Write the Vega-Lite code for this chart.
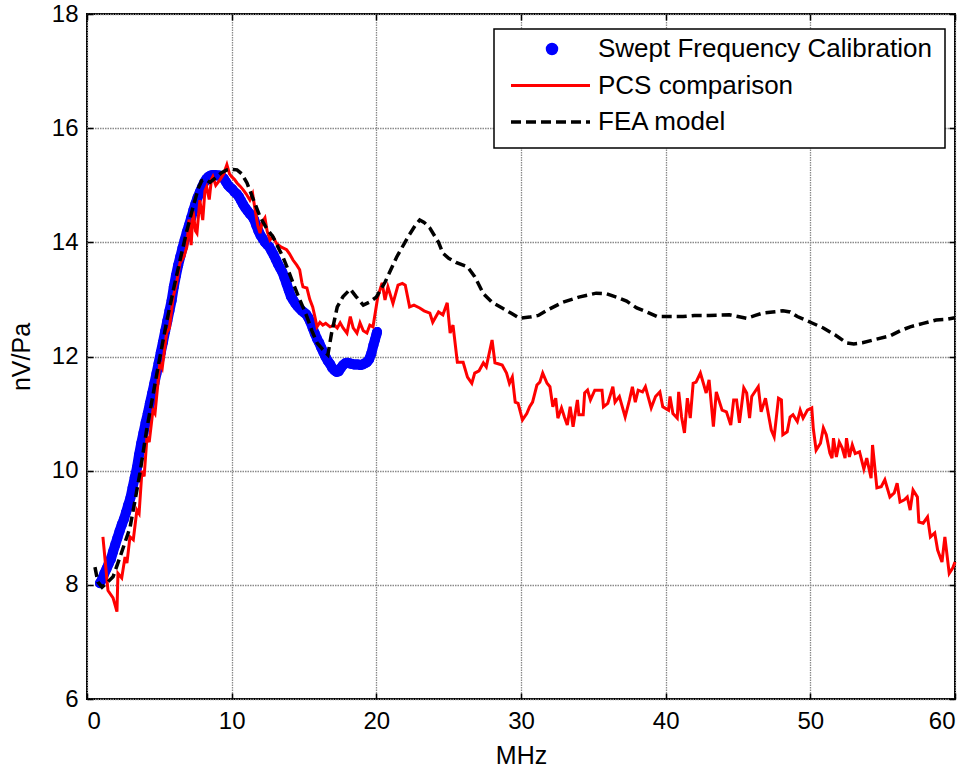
{
"$schema": "https://vega.github.io/schema/vega-lite/v6.json",
"width": 868, "height": 685,
"autosize": {"type": "none"},
"padding": {"left": 87, "top": 14, "right": 17, "bottom": 73},
"background": "white",
"config": {
  "view": {"stroke": "black", "strokeWidth": 2},
  "font": "Liberation Sans",
  "axis": {"domain": false, "tickColor": "black", "tickSize": -6, "tickWidth": 1.5, "labelFontSize": 24, "labelColor": "black", "titleFontSize": 25, "titleFontWeight": "normal", "titleColor": "black", "gridColor": "#8a8a8a", "gridDash": [1.5, 1], "gridWidth": 1.3},
  "legend": {"title": null, "orient": "none", "legendX": 407, "legendY": 15, "padding": 13, "symbolSize": 6241, "symbolType": "stroke", "clipHeight": 14, "rowPadding": 10.5, "labelFontSize": 26, "labelColor": "black", "labelOffset": 58, "labelLimit": 500, "strokeColor": "black", "fillColor": "white", "symbolOffset": 7}
},
"datasets": {
"swept": [
{"f":0.9,"v":8.03},{"f":1.05,"v":8.1},{"f":1.2,"v":8.2},{"f":1.35,"v":8.28},{"f":1.5,"v":8.37},{"f":1.65,"v":8.45},{"f":1.8,"v":8.58},{"f":1.95,"v":8.7},{"f":2.1,"v":8.82},{"f":2.25,"v":8.94},{"f":2.4,"v":9.05},{"f":2.55,"v":9.15},{"f":2.7,"v":9.27},{"f":2.85,"v":9.4},{"f":3.0,"v":9.52},{"f":3.15,"v":9.7},{"f":3.3,"v":9.88},{"f":3.45,"v":10.05},{"f":3.6,"v":10.28},{"f":3.75,"v":10.48},{"f":3.9,"v":10.66},{"f":4.05,"v":10.84},{"f":4.2,"v":11.0},{"f":4.35,"v":11.18},{"f":4.5,"v":11.35},{"f":4.65,"v":11.52},{"f":4.8,"v":11.7},{"f":4.95,"v":11.88},{"f":5.1,"v":12.07},{"f":5.25,"v":12.25},{"f":5.4,"v":12.44},{"f":5.55,"v":12.62},{"f":5.7,"v":12.8},{"f":5.85,"v":12.98},{"f":6.0,"v":13.22},{"f":6.15,"v":13.42},{"f":6.3,"v":13.6},{"f":6.45,"v":13.75},{"f":6.6,"v":13.9},{"f":6.75,"v":14.04},{"f":6.9,"v":14.18},{"f":7.05,"v":14.3},{"f":7.2,"v":14.43},{"f":7.35,"v":14.56},{"f":7.5,"v":14.68},{"f":7.65,"v":14.79},{"f":7.8,"v":14.88},{"f":7.95,"v":14.97},{"f":8.1,"v":15.05},{"f":8.25,"v":15.11},{"f":8.4,"v":15.15},{"f":8.55,"v":15.17},{"f":8.7,"v":15.18},{"f":8.85,"v":15.18},{"f":9.0,"v":15.17},{"f":9.15,"v":15.17},{"f":9.3,"v":15.15},{"f":9.45,"v":15.12},{"f":9.6,"v":15.06},{"f":9.75,"v":15.0},{"f":9.9,"v":14.96},{"f":10.05,"v":14.93},{"f":10.2,"v":14.88},{"f":10.35,"v":14.85},{"f":10.5,"v":14.8},{"f":10.65,"v":14.73},{"f":10.8,"v":14.66},{"f":10.95,"v":14.6},{"f":11.1,"v":14.55},{"f":11.25,"v":14.5},{"f":11.4,"v":14.46},{"f":11.55,"v":14.4},{"f":11.7,"v":14.3},{"f":11.85,"v":14.2},{"f":12.0,"v":14.12},{"f":12.15,"v":14.06},{"f":12.3,"v":14.0},{"f":12.45,"v":13.96},{"f":12.6,"v":13.92},{"f":12.75,"v":13.85},{"f":12.9,"v":13.78},{"f":13.05,"v":13.7},{"f":13.2,"v":13.62},{"f":13.35,"v":13.55},{"f":13.5,"v":13.48},{"f":13.65,"v":13.38},{"f":13.8,"v":13.27},{"f":13.95,"v":13.16},{"f":14.1,"v":13.05},{"f":14.25,"v":12.99},{"f":14.4,"v":12.93},{"f":14.55,"v":12.88},{"f":14.7,"v":12.84},{"f":14.85,"v":12.8},{"f":15.0,"v":12.77},{"f":15.15,"v":12.74},{"f":15.3,"v":12.68},{"f":15.45,"v":12.6},{"f":15.6,"v":12.5},{"f":15.75,"v":12.4},{"f":15.9,"v":12.31},{"f":16.05,"v":12.24},{"f":16.2,"v":12.15},{"f":16.35,"v":12.07},{"f":16.5,"v":11.99},{"f":16.65,"v":11.92},{"f":16.8,"v":11.87},{"f":16.95,"v":11.8},{"f":17.1,"v":11.76},{"f":17.25,"v":11.73},{"f":17.4,"v":11.74},{"f":17.55,"v":11.8},{"f":17.7,"v":11.85},{"f":17.85,"v":11.88},{"f":18.0,"v":11.89},{"f":18.15,"v":11.88},{"f":18.3,"v":11.87},{"f":18.45,"v":11.86},{"f":18.6,"v":11.86},{"f":18.75,"v":11.86},{"f":18.9,"v":11.85},{"f":19.05,"v":11.86},{"f":19.2,"v":11.88},{"f":19.35,"v":11.9},{"f":19.5,"v":11.95},{"f":19.65,"v":12.05},{"f":19.8,"v":12.2},{"f":19.9,"v":12.29},{"f":20.0,"v":12.38},{"f":20.05,"v":12.43}
],
"pcs": [
{"f":1.1,"v":8.84},{"f":1.45,"v":7.9},{"f":1.8,"v":7.77},{"f":2.07,"v":7.53},{"f":2.14,"v":8.2},{"f":2.4,"v":8.12},{"f":2.63,"v":8.49},{"f":2.76,"v":8.38},{"f":2.97,"v":8.84},{"f":3.2,"v":8.79},{"f":3.45,"v":9.31},{"f":3.6,"v":9.25},{"f":3.8,"v":10.0},{"f":3.95,"v":9.9},{"f":4.15,"v":10.6},{"f":4.3,"v":10.5},{"f":4.56,"v":11.06},{"f":4.7,"v":11.0},{"f":5.04,"v":11.89},{"f":5.2,"v":11.8},{"f":5.5,"v":12.41},{"f":5.7,"v":12.5},{"f":5.96,"v":13.04},{"f":6.2,"v":13.3},{"f":6.43,"v":13.64},{"f":6.7,"v":13.75},{"f":6.9,"v":13.92},{"f":7.05,"v":14.4},{"f":7.2,"v":13.95},{"f":7.33,"v":14.55},{"f":7.5,"v":14.2},{"f":7.6,"v":14.16},{"f":7.8,"v":14.74},{"f":8.0,"v":14.39},{"f":8.15,"v":14.9},{"f":8.27,"v":14.97},{"f":8.45,"v":14.75},{"f":8.6,"v":15.1},{"f":8.7,"v":15.15},{"f":8.9,"v":15.0},{"f":9.2,"v":15.1},{"f":9.45,"v":15.2},{"f":9.67,"v":15.36},{"f":9.85,"v":15.2},{"f":10.0,"v":15.15},{"f":10.2,"v":15.1},{"f":10.37,"v":15.04},{"f":10.6,"v":14.98},{"f":10.8,"v":14.92},{"f":11.0,"v":14.85},{"f":11.26,"v":14.74},{"f":11.45,"v":14.85},{"f":11.6,"v":14.6},{"f":11.8,"v":14.3},{"f":11.96,"v":14.16},{"f":12.1,"v":14.35},{"f":12.3,"v":14.43},{"f":12.45,"v":14.2},{"f":12.65,"v":14.04},{"f":12.85,"v":14.1},{"f":13.1,"v":13.98},{"f":13.4,"v":13.92},{"f":13.8,"v":13.87},{"f":14.0,"v":13.8},{"f":14.24,"v":13.69},{"f":14.5,"v":13.6},{"f":14.7,"v":13.52},{"f":14.85,"v":13.3},{"f":14.93,"v":13.22},{"f":15.2,"v":13.2},{"f":15.4,"v":13.0},{"f":15.6,"v":12.87},{"f":15.75,"v":12.7},{"f":15.9,"v":12.52},{"f":16.1,"v":12.6},{"f":16.3,"v":12.55},{"f":16.5,"v":12.58},{"f":16.8,"v":12.52},{"f":17.1,"v":12.55},{"f":17.3,"v":12.5},{"f":17.5,"v":12.59},{"f":17.7,"v":12.5},{"f":17.97,"v":12.41},{"f":18.2,"v":12.7},{"f":18.4,"v":12.5},{"f":18.66,"v":12.41},{"f":18.87,"v":12.59},{"f":19.1,"v":12.45},{"f":19.35,"v":12.41},{"f":19.55,"v":12.55},{"f":19.77,"v":12.52},{"f":20.1,"v":13.04},{"f":20.4,"v":13.29},{"f":20.6,"v":12.99},{"f":20.8,"v":13.22},{"f":21.15,"v":12.93},{"f":21.5,"v":13.25},{"f":21.8,"v":13.28},{"f":22.0,"v":13.25},{"f":22.3,"v":12.87},{"f":22.6,"v":12.9},{"f":23.0,"v":12.85},{"f":23.3,"v":12.8},{"f":23.7,"v":12.76},{"f":23.9,"v":12.6},{"f":24.3,"v":12.78},{"f":24.6,"v":12.73},{"f":24.9,"v":12.94},{"f":25.1,"v":12.41},{"f":25.3,"v":12.55},{"f":25.6,"v":11.9},{"f":26.0,"v":11.9},{"f":26.3,"v":11.64},{"f":26.6,"v":11.53},{"f":26.8,"v":11.71},{"f":27.1,"v":11.75},{"f":27.4,"v":11.89},{"f":27.6,"v":11.82},{"f":28.0,"v":12.29},{"f":28.2,"v":11.89},{"f":28.7,"v":11.85},{"f":29.0,"v":11.71},{"f":29.2,"v":11.53},{"f":29.4,"v":11.64},{"f":29.6,"v":11.2},{"f":29.8,"v":11.18},{"f":30.1,"v":10.89},{"f":30.4,"v":11.0},{"f":30.6,"v":11.12},{"f":30.8,"v":11.2},{"f":31.1,"v":11.5},{"f":31.3,"v":11.55},{"f":31.5,"v":11.71},{"f":31.8,"v":11.53},{"f":32.0,"v":11.47},{"f":32.2,"v":11.12},{"f":32.4,"v":11.27},{"f":32.55,"v":10.92},{"f":32.8,"v":11.1},{"f":33.0,"v":10.94},{"f":33.2,"v":10.8},{"f":33.4,"v":11.12},{"f":33.6,"v":10.77},{"f":33.9,"v":11.24},{"f":34.0,"v":10.98},{"f":34.3,"v":10.98},{"f":34.4,"v":11.36},{"f":34.6,"v":11.41},{"f":34.8,"v":11.24},{"f":35.1,"v":11.41},{"f":35.6,"v":11.41},{"f":35.7,"v":11.12},{"f":36.0,"v":11.18},{"f":36.35,"v":11.47},{"f":36.5,"v":11.2},{"f":36.8,"v":11.3},{"f":37.2,"v":10.94},{"f":37.5,"v":11.24},{"f":37.7,"v":11.47},{"f":37.9,"v":11.2},{"f":38.1,"v":11.41},{"f":38.4,"v":11.38},{"f":38.6,"v":11.47},{"f":39.0,"v":11.1},{"f":39.3,"v":11.3},{"f":39.6,"v":11.38},{"f":39.8,"v":11.12},{"f":40.2,"v":11.06},{"f":40.3,"v":11.3},{"f":40.5,"v":11.0},{"f":40.8,"v":10.92},{"f":40.9,"v":11.38},{"f":41.1,"v":10.94},{"f":41.3,"v":10.66},{"f":41.5,"v":11.27},{"f":41.7,"v":10.92},{"f":41.9,"v":11.53},{"f":42.1,"v":11.55},{"f":42.4,"v":11.71},{"f":42.8,"v":11.36},{"f":43.0,"v":11.59},{"f":43.3,"v":10.77},{"f":43.5,"v":11.38},{"f":43.9,"v":11.06},{"f":44.2,"v":11.03},{"f":44.5,"v":10.8},{"f":44.7,"v":11.24},{"f":44.9,"v":11.24},{"f":45.1,"v":10.84},{"f":45.4,"v":11.45},{"f":45.6,"v":11.36},{"f":45.8,"v":10.92},{"f":45.95,"v":11.3},{"f":46.4,"v":11.47},{"f":46.6,"v":11.03},{"f":46.9,"v":11.27},{"f":47.3,"v":10.71},{"f":47.5,"v":10.59},{"f":47.8,"v":11.27},{"f":48.0,"v":11.24},{"f":48.1,"v":10.63},{"f":48.4,"v":10.68},{"f":48.6,"v":10.94},{"f":48.8,"v":10.98},{"f":49.1,"v":10.86},{"f":49.3,"v":11.06},{"f":49.5,"v":10.92},{"f":49.8,"v":11.06},{"f":50.1,"v":11.1},{"f":50.2,"v":10.75},{"f":50.4,"v":10.36},{"f":50.7,"v":10.48},{"f":50.9,"v":10.75},{"f":51.1,"v":10.63},{"f":51.35,"v":10.31},{"f":51.5,"v":10.22},{"f":51.6,"v":10.57},{"f":51.8,"v":10.24},{"f":52.0,"v":10.5},{"f":52.2,"v":10.4},{"f":52.4,"v":10.22},{"f":52.5,"v":10.57},{"f":52.7,"v":10.24},{"f":52.9,"v":10.45},{"f":53.1,"v":10.3},{"f":53.4,"v":10.33},{"f":53.7,"v":10.03},{"f":53.9,"v":10.22},{"f":54.2,"v":9.87},{"f":54.3,"v":10.45},{"f":54.6,"v":9.7},{"f":54.9,"v":9.72},{"f":55.15,"v":9.84},{"f":55.5,"v":9.54},{"f":55.8,"v":9.61},{"f":56.0,"v":9.78},{"f":56.2,"v":9.45},{"f":56.5,"v":9.49},{"f":56.7,"v":9.54},{"f":56.9,"v":9.31},{"f":57.1,"v":9.66},{"f":57.4,"v":9.54},{"f":57.5,"v":9.1},{"f":57.8,"v":9.08},{"f":58.1,"v":9.19},{"f":58.3,"v":8.84},{"f":58.6,"v":8.91},{"f":58.8,"v":8.61},{"f":59.1,"v":8.4},{"f":59.3,"v":8.84},{"f":59.6,"v":8.2},{"f":59.85,"v":8.3},{"f":60.0,"v":8.4}
],
"fea": [
{"f":0.55,"v":8.31},{"f":0.75,"v":8.05},{"f":1.04,"v":7.96},{"f":1.4,"v":8.04},{"f":1.8,"v":8.14},{"f":2.3,"v":8.5},{"f":2.97,"v":9.0},{"f":3.3,"v":9.45},{"f":3.66,"v":9.96},{"f":4.12,"v":10.71},{"f":4.6,"v":11.38},{"f":5.04,"v":11.99},{"f":5.5,"v":12.6},{"f":6.0,"v":13.2},{"f":6.43,"v":13.69},{"f":6.9,"v":14.2},{"f":7.33,"v":14.62},{"f":7.7,"v":14.95},{"f":7.93,"v":15.08},{"f":8.2,"v":15.1},{"f":8.5,"v":15.05},{"f":8.98,"v":15.15},{"f":9.3,"v":15.22},{"f":9.67,"v":15.27},{"f":10.0,"v":15.28},{"f":10.37,"v":15.27},{"f":10.7,"v":15.2},{"f":11.06,"v":15.04},{"f":11.5,"v":14.75},{"f":11.96,"v":14.45},{"f":12.4,"v":14.25},{"f":12.85,"v":14.1},{"f":13.2,"v":13.92},{"f":13.55,"v":13.74},{"f":13.9,"v":13.52},{"f":14.24,"v":13.29},{"f":14.7,"v":13.0},{"f":15.2,"v":12.7},{"f":15.55,"v":12.45},{"f":15.9,"v":12.24},{"f":16.3,"v":12.12},{"f":16.65,"v":12.03},{"f":16.9,"v":12.4},{"f":17.3,"v":12.87},{"f":17.7,"v":13.05},{"f":18.2,"v":13.18},{"f":18.6,"v":13.05},{"f":19.1,"v":12.9},{"f":19.5,"v":12.95},{"f":20.0,"v":13.04},{"f":20.6,"v":13.3},{"f":21.4,"v":13.74},{"f":22.2,"v":14.1},{"f":22.7,"v":14.3},{"f":23.0,"v":14.39},{"f":23.3,"v":14.35},{"f":23.7,"v":14.25},{"f":24.3,"v":14.0},{"f":24.6,"v":13.81},{"f":25.0,"v":13.72},{"f":25.5,"v":13.65},{"f":26.3,"v":13.57},{"f":26.8,"v":13.4},{"f":27.4,"v":13.1},{"f":28.0,"v":12.95},{"f":28.7,"v":12.85},{"f":29.3,"v":12.76},{"f":29.9,"v":12.67},{"f":30.6,"v":12.69},{"f":31.2,"v":12.72},{"f":31.8,"v":12.81},{"f":32.9,"v":12.95},{"f":34.0,"v":13.04},{"f":35.2,"v":13.11},{"f":35.9,"v":13.1},{"f":36.6,"v":13.04},{"f":37.3,"v":12.97},{"f":38.0,"v":12.85},{"f":38.7,"v":12.78},{"f":39.4,"v":12.7},{"f":40.3,"v":12.7},{"f":41.2,"v":12.7},{"f":42.0,"v":12.72},{"f":43.0,"v":12.72},{"f":44.4,"v":12.73},{"f":45.0,"v":12.7},{"f":45.6,"v":12.67},{"f":46.2,"v":12.72},{"f":46.7,"v":12.76},{"f":47.4,"v":12.78},{"f":48.1,"v":12.8},{"f":48.6,"v":12.78},{"f":49.1,"v":12.7},{"f":50.0,"v":12.6},{"f":50.9,"v":12.5},{"f":51.7,"v":12.38},{"f":52.5,"v":12.24},{"f":53.0,"v":12.22},{"f":53.6,"v":12.24},{"f":54.5,"v":12.3},{"f":55.5,"v":12.36},{"f":56.2,"v":12.45},{"f":56.9,"v":12.52},{"f":57.8,"v":12.58},{"f":58.7,"v":12.64},{"f":59.4,"v":12.65},{"f":60.0,"v":12.68}
]
},
"layer": [
{
  "data": {"name": "swept"},
  "mark": {"type": "line", "strokeWidth": 10, "color": "#0000ff", "strokeCap": "round", "strokeJoin": "round"},
  "encoding": {
    "x": {"field": "f", "type": "quantitative", "scale": {"domain": [0, 60], "nice": false, "zero": false}, "axis": {"orient": "bottom", "title": "MHz", "values": [0, 10, 20, 30, 40, 50, 60], "grid": true, "labelPadding": 16, "titlePadding": 10}},
    "y": {"field": "v", "type": "quantitative", "scale": {"domain": [6, 18], "nice": false, "zero": false}, "axis": {"orient": "left", "title": "nV/Pa", "values": [6, 8, 10, 12, 14, 16, 18], "grid": true, "labelPadding": 15, "titlePadding": 17}}
  }
},
{
  "data": {"name": "swept"},
  "mark": {"type": "circle", "size": 100, "opacity": 1},
  "encoding": {
    "x": {"field": "f", "type": "quantitative", "axis": null},
    "y": {"field": "v", "type": "quantitative", "axis": null},
    "color": {"datum": "Swept Frequency Calibration", "type": "nominal",
      "scale": {"domain": ["Swept Frequency Calibration", "PCS comparison", "FEA model"], "range": ["#0000ff", "#ff0000", "#000000"]},
      "legend": {"encode": {
          "legend": {"update": {"strokeWidth": {"value": 1.5}}},
          "symbols": {"update": {
            "shape": {"signal": "datum.value === 'Swept Frequency Calibration' ? 'circle' : 'stroke'"},
            "size": {"signal": "datum.value === 'Swept Frequency Calibration' ? 90 : 6241"},
            "x": {"signal": "datum.value === 'Swept Frequency Calibration' ? 45 : 43.5"},
            "fill": {"signal": "datum.value === 'Swept Frequency Calibration' ? '#0000ff' : 'transparent'"},
            "stroke": {"signal": "datum.value === 'Swept Frequency Calibration' ? 'transparent' : (datum.value === 'PCS comparison' ? '#ff0000' : '#000000')"},
            "strokeWidth": {"signal": "datum.value === 'FEA model' ? 3.5 : 3"},
            "strokeDash": {"signal": "datum.value === 'FEA model' ? [10, 5] : []"},
            "opacity": {"value": 1}
          }}
        }}
    }
  }
},
{
  "data": {"name": "pcs"},
  "mark": {"type": "line", "strokeWidth": 3},
  "encoding": {
    "x": {"field": "f", "type": "quantitative", "axis": null},
    "y": {"field": "v", "type": "quantitative", "axis": null},
    "color": {"datum": "PCS comparison", "type": "nominal",
      "legend": {"encode": {
          "legend": {"update": {"strokeWidth": {"value": 1.5}}},
          "symbols": {"update": {
            "shape": {"signal": "datum.value === 'Swept Frequency Calibration' ? 'circle' : 'stroke'"},
            "size": {"signal": "datum.value === 'Swept Frequency Calibration' ? 90 : 6241"},
            "x": {"signal": "datum.value === 'Swept Frequency Calibration' ? 45 : 43.5"},
            "fill": {"signal": "datum.value === 'Swept Frequency Calibration' ? '#0000ff' : 'transparent'"},
            "stroke": {"signal": "datum.value === 'Swept Frequency Calibration' ? 'transparent' : (datum.value === 'PCS comparison' ? '#ff0000' : '#000000')"},
            "strokeWidth": {"signal": "datum.value === 'FEA model' ? 3.5 : 3"},
            "strokeDash": {"signal": "datum.value === 'FEA model' ? [10, 5] : []"},
            "opacity": {"value": 1}
          }}
        }}
    }
  }
},
{
  "data": {"name": "fea"},
  "mark": {"type": "line", "strokeWidth": 3.5, "strokeDash": [10, 5]},
  "encoding": {
    "x": {"field": "f", "type": "quantitative", "axis": {"orient": "top", "labels": false, "grid": false, "title": null, "values": [0, 10, 20, 30, 40, 50, 60]}},
    "y": {"field": "v", "type": "quantitative", "axis": {"orient": "right", "labels": false, "grid": false, "title": null, "values": [6, 8, 10, 12, 14, 16, 18]}},
    "color": {"datum": "FEA model", "type": "nominal",
      "legend": {"encode": {
          "legend": {"update": {"strokeWidth": {"value": 1.5}}},
          "symbols": {"update": {
            "shape": {"signal": "datum.value === 'Swept Frequency Calibration' ? 'circle' : 'stroke'"},
            "size": {"signal": "datum.value === 'Swept Frequency Calibration' ? 90 : 6241"},
            "x": {"signal": "datum.value === 'Swept Frequency Calibration' ? 45 : 43.5"},
            "fill": {"signal": "datum.value === 'Swept Frequency Calibration' ? '#0000ff' : 'transparent'"},
            "stroke": {"signal": "datum.value === 'Swept Frequency Calibration' ? 'transparent' : (datum.value === 'PCS comparison' ? '#ff0000' : '#000000')"},
            "strokeWidth": {"signal": "datum.value === 'FEA model' ? 3.5 : 3"},
            "strokeDash": {"signal": "datum.value === 'FEA model' ? [10, 5] : []"},
            "opacity": {"value": 1}
          }}
        }}
    }
  }
}
],
"resolve": {"axis": {"x": "independent", "y": "independent"}}
}
